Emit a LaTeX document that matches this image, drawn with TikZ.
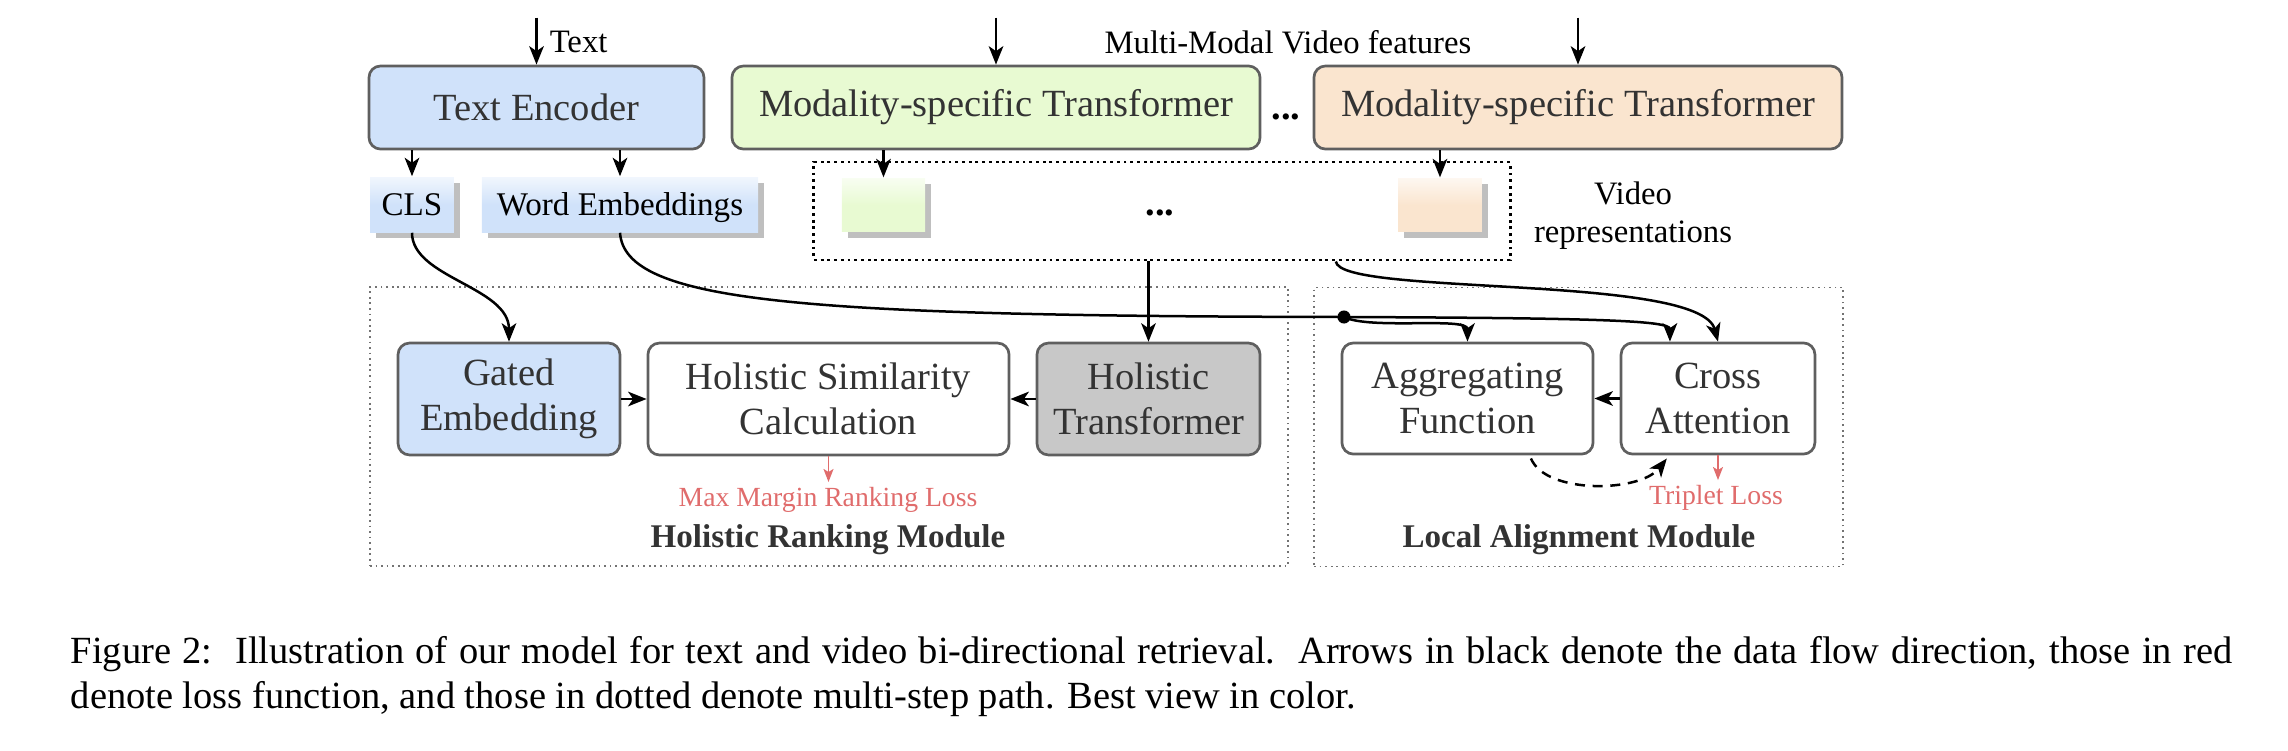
\documentclass[tikz,border=0pt]{standalone}
\usepackage{fontspec}
\setmainfont{Liberation Serif}
\usepackage{tikz}
\usetikzlibrary{arrows.meta,shadows}

\definecolor{encblue}{RGB}{208,226,250}
\definecolor{modgreen}{RGB}{232,250,210}
\definecolor{modorange}{RGB}{250,229,207}
\definecolor{holgray}{RGB}{200,200,200}
\definecolor{boxline}{RGB}{95,95,95}
\definecolor{lossred}{RGB}{224,108,108}
\definecolor{boxtext}{RGB}{51,51,51}

\begin{document}
\begin{tikzpicture}[x=0.26pt,y=-0.26pt,
        blk/.style={draw=boxline,line width=0.7pt,rounded corners=3pt,text=boxtext,align=center,
                    font=\fontsize{10}{11.7}\selectfont,inner sep=1pt},
        emb/.style={draw=none,top color=#1!30,bottom color=#1,middle color=#1,
                    drop shadow={shadow xshift=1.6pt,shadow yshift=-1.6pt,fill=black!25,opacity=1},
                    font=\fontsize{8.6}{9.9}\selectfont,inner sep=0pt,text depth=0pt},
        lbl/.style={font=\fontsize{8.5}{9.9}\selectfont,inner sep=0pt},
        modbox/.style={draw=black!55,line width=0.45pt,densely dotted},
        modlbl/.style={font=\fontsize{8.6}{10}\selectfont\bfseries,text=boxtext,inner sep=0pt},
        loss/.style={font=\fontsize{7.2}{8.5}\selectfont,text=lossred,inner sep=0pt},
        dots/.style={font=\fontsize{10}{12}\selectfont\bfseries,inner sep=0pt},
        arr/.style={line width=0.65pt,-{Stealth[length=4.8pt,width=3.8pt,inset=1.3pt]}},
        lossarr/.style={draw=lossred,line width=0.45pt,shorten >=1.2pt,-{Stealth[length=3.4pt,width=2.6pt,inset=0.8pt]}}
    ]
    \useasboundingbox (0,0) rectangle (2288,750);

    % encoders
    \node[blk,fill=encblue,minimum width=87.1pt,minimum height=21.6pt] (te) at (536.5,107.5) {Text Encoder};
    \node[blk,fill=modgreen,minimum width=137.3pt,minimum height=21.6pt] (mstA) at (996,107.5) {Modality-specific Transformer};
    \node[dots] (topdots) at (1286,117) {...};
    \node[blk,fill=modorange,minimum width=137.3pt,minimum height=21.6pt] (mstB) at (1578,107.5) {Modality-specific Transformer};

    \coordinate (tin) at ([yshift=12.2pt]te.north);
    \coordinate (vinA) at ([yshift=12.2pt]mstA.north);
    \coordinate (vinB) at ([yshift=12.2pt]mstB.north);
    \node[lbl,anchor=west] (txtlbl) at (549,42) {Text};
    \node[lbl] (vidin) at (1288,42) {Multi-Modal Video features};
    \draw[arr] (tin) -- (te.north);
    \draw[arr] (vinA) -- (mstA.north);
    \draw[arr] (vinB) -- (mstB.north);

    % embeddings
    \node[emb=encblue,minimum width=21.8pt,minimum height=14.3pt] (cls) at (412,204.5) {CLS};
    \node[emb=encblue,minimum width=71.8pt,minimum height=14.3pt] (we) at (620,204.5) {Word Embeddings};
    \draw[arr] (te.south -| cls.north) -- (cls.north);
    \draw[arr] (te.south -| we.north) -- (we.north);

    \node[draw,line width=0.75pt,densely dotted,minimum width=181pt,minimum height=25.5pt] (vid) at (1162,211) {};
    \node[emb=modgreen,minimum width=21.6pt,minimum height=14pt] (vrA) at (883.5,205) {};
    \node[emb=modorange,minimum width=21.8pt,minimum height=14pt] (vrB) at (1440,205) {};
    \node[dots] (viddots) at (1160,213) {...};
    \node[lbl,align=center] (vidlbl) at (1633,216) {Video\\representations};
    \draw[arr] (mstA.south -| vrA.north) -- (vrA.north);
    \draw[arr] (mstB.south -| vrB.north) -- (vrB.north);

    % modules
    \node[modbox,minimum width=238.7pt,minimum height=72.5pt] (hrm) at (829,426.5) {};
    \node[modbox,minimum width=137.5pt,minimum height=72.5pt] (lam) at (1578.5,427) {};
    \node[modlbl] (hrmlbl) at (828,540) {Holistic Ranking Module};
    \node[modlbl] (lamlbl) at (1579,540) {Local Alignment Module};

    \node[blk,fill=encblue,minimum width=57.7pt,minimum height=29.1pt] (gate) at (509,399) {Gated\\Embedding};
    \node[blk,fill=white,minimum width=93.9pt,minimum height=29.1pt] (hsc) at (828.5,399) {Holistic Similarity\\Calculation};
    \node[blk,fill=holgray,minimum width=58pt,minimum height=29.1pt] (ht) at (1148.5,399) {Holistic\\Transformer};
    \node[blk,fill=white,minimum width=65.3pt,minimum height=28.9pt] (af) at (1467.5,398.5) {Aggregating\\Function};
    \node[blk,fill=white,minimum width=50.4pt,minimum height=28.9pt] (ca) at (1718,398.5) {Cross\\Attention};

    \node[loss] (mmrl) at (828,500) {Max Margin Ranking Loss};
    \node[loss] (tl) at (1716,498) {Triplet Loss};
    \draw[lossarr] (hsc.south) -- (hsc.south |- mmrl.north);
    \draw[lossarr] (ca.south) -- (ca.south |- tl.north);

    \draw[arr] (gate) -- (hsc);
    \draw[arr] (ht) -- (hsc);
    \draw[arr] (ca) -- (af);

    % data flow
    \node[circle,fill,inner sep=0pt,minimum size=3.4pt] (jn) at (1344,317) {};
    \draw[arr] (cls.south) .. controls +(0,45) and +(0,-55) .. (gate.north);
    \draw[arr] (we.south) .. controls +(5,70) and +(-544,-1) .. (jn.center)
        .. controls +(256,1) and +(0,-21) .. ([xshift=-12.5pt]ca.north);
    \draw[arr] (jn.center) .. controls +(26,13) and +(0,-25) .. (af.north);
    \draw[arr] (vid.south -| ht.north) -- (ht.north);
    \draw[arr] ([xshift=45.2pt]vid.south) .. controls +(4,35) and +(-18,-68) .. (ca.north);
    \draw[arr,dash pattern=on 2.6pt off 2pt] ([xshift=16.5pt,yshift=-0.8pt]af.south)
        .. controls +(15,36) and +(-27,34) .. ([xshift=-13.3pt,yshift=-0.8pt]ca.south);

    % caption
    \node[anchor=base west,inner sep=0pt,font=\fontsize{10}{12}\selectfont] (cap1) at (70,663)
        {\makebox[562pt][s]{Figure 2:\ \ Illustration of our model for text and video bi-directional retrieval.\ \ Arrows in black denote the data flow direction, those in red}};
    \node[anchor=base west,inner sep=0pt,font=\fontsize{10}{12}\selectfont] (cap2) at (70,708)
        {denote loss function, and those in dotted denote multi-step path. Best view in color.};
\end{tikzpicture}
\end{document}
